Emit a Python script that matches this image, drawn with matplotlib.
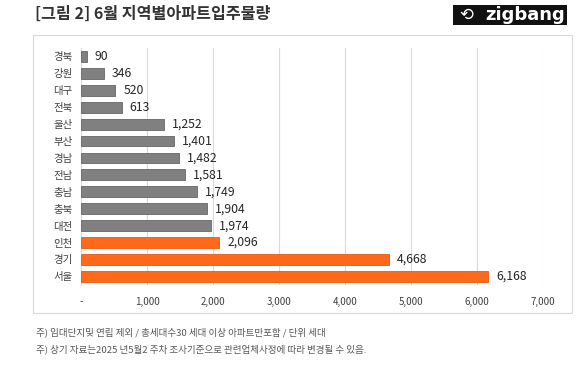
import matplotlib.pyplot as plt
from matplotlib.patches import Rectangle

plt.rcParams['font.family'] = ['Noto Sans CJK KR', 'DejaVu Sans']

# 지역별 입주물량 (세대)
regions = ['경북', '강원', '대구', '전북', '울산', '부산', '경남', '전남',
           '충남', '충북', '대전', '인천', '경기', '서울']
values = [90, 346, 520, 613, 1252, 1401, 1482, 1581, 1749, 1904, 1974, 2096, 4668, 6168]
capital = ['인천', '경기', '서울']
xticks = [0, 1000, 2000, 3000, 4000, 5000, 6000, 7000]
xtick_labels = ['-', '1,000', '2,000', '3,000', '4,000', '5,000', '6,000', '7,000']

gray = '#808080'
orange = '#FF6A1A'

fig = plt.figure(figsize=(5.8, 3.69), dpi=100)
ax = fig.add_axes([0.1397, 0.228, 0.797, 0.642])

colors = [orange if r in capital else gray for r in regions]
edges = ['#E85A10' if r in capital else '#666666' for r in regions]
y = list(range(len(regions)))
ax.barh(y, values, height=0.64, color=colors, edgecolor=edges, linewidth=0.6, zorder=3)

for yi, v in zip(y, values):
    ax.text(v + 120, yi, f'{v:,}', va='center', ha='left', fontsize=8.8, color='#262626')

ax.set_ylim(len(regions) - 0.5, -0.5)
ax.set_xlim(0, 7000)
ax.set_yticks(y)
ax.set_yticklabels(regions, fontsize=7.5, color='#404040')
ax.set_xticks(xticks)
ax.set_xticklabels(xtick_labels, fontsize=7, color='#404040')
ax.tick_params(length=0)
ax.tick_params(axis='x', pad=9)
ax.tick_params(axis='y', pad=6)
ax.grid(axis='x', color='#D9D9D9', linewidth=0.8, zorder=0)
for s in ['top', 'right', 'bottom']:
    ax.spines[s].set_visible(False)
ax.spines['left'].set_color('#D9D9D9')
ax.spines['left'].set_linewidth(0.8)

# chart frame
fig.patches.append(Rectangle((33 / 580, 1 - 313 / 369), (572 - 33) / 580, (313 - 35) / 369,
                             transform=fig.transFigure, fill=False,
                             edgecolor='#D9D9D9', linewidth=0.8))

fig.text(35 / 580, 1 - 14 / 369, '[그림 2] 6월 지역별아파트입주물량', fontsize=11.6,
         fontweight='bold', color='#333333', va='center', ha='left')

# logo
fig.patches.append(Rectangle((453 / 580, 1 - 25 / 369), (567 - 453) / 580, 20 / 369,
                             transform=fig.transFigure, facecolor='#111111',
                             edgecolor='none'))
fig.text(466 / 580, 1 - 15 / 369, '⟲', fontsize=12, color='white',
         va='center', ha='center', family='DejaVu Sans')
fig.text(565 / 580, 1 - 15 / 369, 'zigbang', fontsize=13, fontweight='bold',
         color='white', va='center', ha='right', family='DejaVu Sans')

fig.text(36 / 580, 1 - 332 / 369,
         '주) 임대단지및 연립 제외 / 총세대수30 세대 이상 아파트만포함 / 단위 세대',
         fontsize=6.9, color='#595959', va='center', ha='left')
fig.text(36 / 580, 1 - 349 / 369,
         '주) 상기 자료는2025 년5월2 주차 조사기준으로 관련업체사정에 따라 변경될 수 있음.',
         fontsize=6.9, color='#595959', va='center', ha='left')

fig.savefig('out.png', dpi=100, facecolor='white')
